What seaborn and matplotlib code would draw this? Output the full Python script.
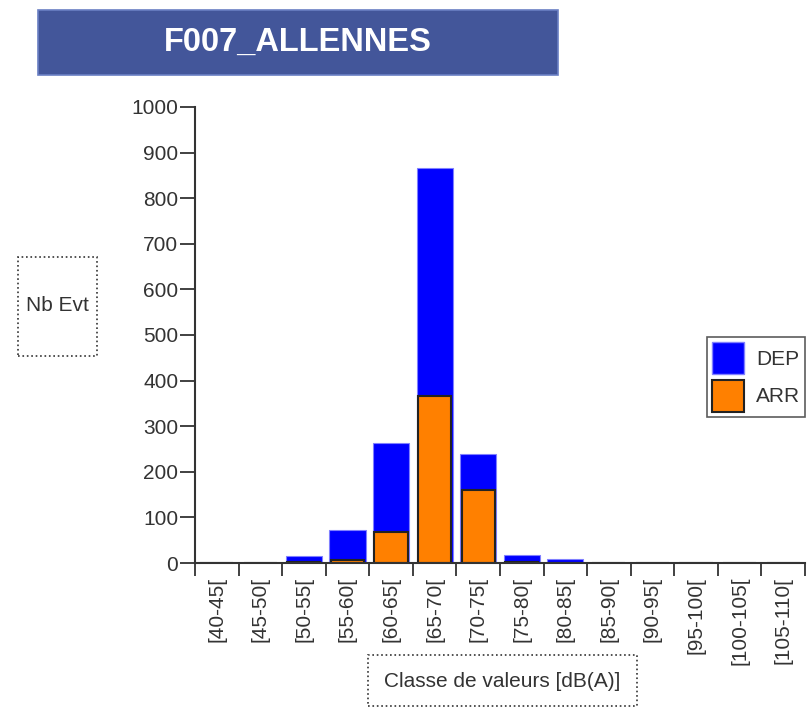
import numpy as np
import seaborn as sns
import matplotlib.pyplot as plt
from matplotlib.patches import Rectangle, Patch

# noise classes and event counts per class
classes = ["[40-45[", "[45-50[", "[50-55[", "[55-60[", "[60-65[", "[65-70[", "[70-75[",
           "[75-80[", "[80-85[", "[85-90[", "[90-95[", "[95-100[", "[100-105[", "[105-110["]
arr = [0, 0, 2, 6, 68, 366, 160, 3, 0, 0, 0, 0, 0, 0]
dep = [0, 0, 13, 66, 195, 500, 79, 14, 8, 0, 0, 0, 0, 0]
yticks = [0, 100, 200, 300, 400, 500, 600, 700, 800, 900, 1000]

title = "F007_ALLENNES"
ylabel = "Nb Evt"
xlabel = "Classe de valeurs [dB(A)]"

sns.set_style("ticks")
plt.rcParams['font.family'] = ['Liberation Sans', 'DejaVu Sans']

blue = "#0000ff"
orange = "#ff8000"
fs = 15

fig = plt.figure(figsize=(8.1, 7.08), dpi=100)
ax = fig.add_axes([0.2407, 0.2048, 0.7531, 0.6441])

# stacked bars: DEP on top of ARR
total = np.array(dep) + np.array(arr)
sns.barplot(x=classes, y=total, color=blue, saturation=1, width=0.83,
            edgecolor="#8080ff", linewidth=0.8, ax=ax)
sns.barplot(x=classes, y=arr, color=orange, saturation=1, width=0.76,
            edgecolor="#222222", linewidth=1.5, ax=ax)

ax.set_xlim(-0.5, len(classes) - 0.5)
ax.set_ylim(0, 1000)
ax.set_yticks(yticks)
ax.set_yticklabels([str(v) for v in yticks], fontsize=fs, color="#333333")
ax.tick_params(axis="y", length=11, width=1.3, pad=1, color="#333333")

ax.set_xticks(range(len(classes)))
ax.set_xticklabels(classes, rotation=90, fontsize=fs, color="#333333")
ax.tick_params(axis="x", which="major", length=0, pad=10)
ax.set_xticks(np.arange(-0.5, len(classes)), minor=True)
ax.tick_params(axis="x", which="minor", length=9, width=1.3, color="#333333")
ax.set_xlabel("")
ax.set_ylabel("")

for s in ["top", "right"]:
    ax.spines[s].set_visible(False)
for s in ["left", "bottom"]:
    ax.spines[s].set_color("#333333")
    ax.spines[s].set_linewidth(1.5)

# title banner
fig.patches.append(Rectangle((0.0469, 0.8941), 0.642, 0.0918, transform=fig.transFigure,
                             facecolor="#43569a", edgecolor="#6a7fc4", linewidth=1.2))
fig.text(0.368, 0.94, title, color="white", fontsize=23.5, fontweight="bold",
         ha="center", va="center")

# y label box
fig.patches.append(Rectangle((0.0222, 0.4972), 0.0975, 0.1398, transform=fig.transFigure,
                             facecolor="none", edgecolor="#333333", linewidth=1.2, linestyle=":"))
fig.text(0.071, 0.5678, ylabel, fontsize=fs, color="#333333", ha="center", va="center")

# x label box
fig.patches.append(Rectangle((0.4543, 0.0028), 0.3321, 0.072, transform=fig.transFigure,
                             facecolor="none", edgecolor="#333333", linewidth=1.2, linestyle=":"))
fig.text(0.6204, 0.0381, xlabel, fontsize=fs, color="#333333", ha="center", va="center")

handles = [Patch(facecolor=blue, edgecolor="#8080ff", label="DEP"),
           Patch(facecolor=orange, edgecolor="#222222", linewidth=1.5, label="ARR")]
leg = fig.legend(handles=handles, loc="upper left", bbox_to_anchor=(0.8728, 0.524),
                 fontsize=fs, frameon=True, fancybox=False, handlelength=1.55,
                 handleheight=2.0, handletextpad=0.55, borderpad=0.25, labelspacing=0.25,
                 borderaxespad=0)
leg.get_frame().set_edgecolor("#333333")
leg.get_frame().set_linewidth(1.2)
for t in leg.get_texts():
    t.set_color("#333333")

fig.savefig("out.png", dpi=100)
